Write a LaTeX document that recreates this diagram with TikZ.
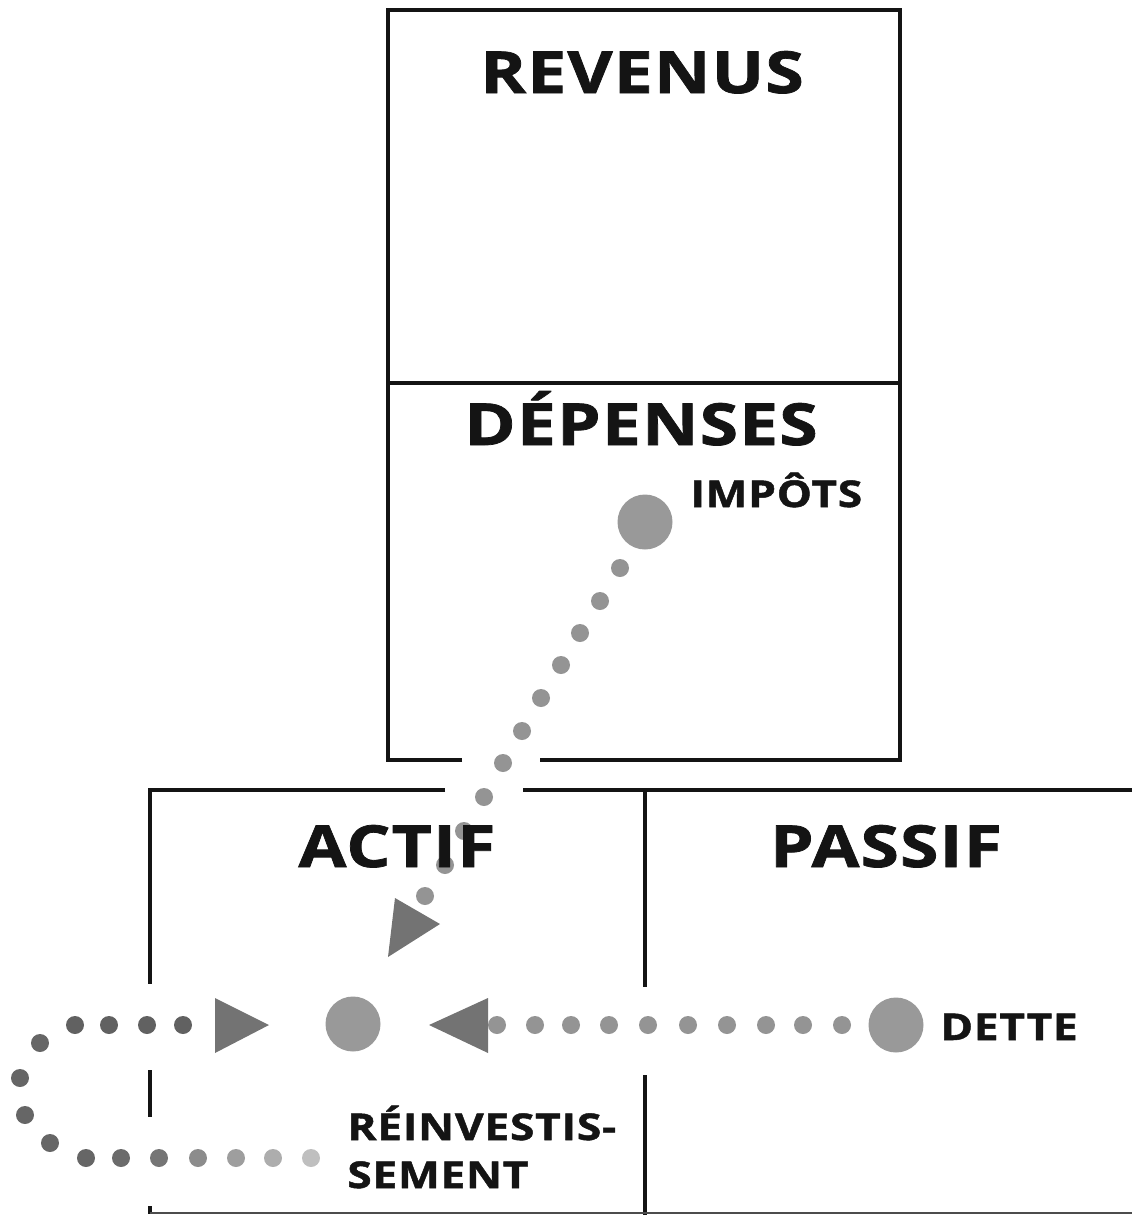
\documentclass[tikz,border=0pt]{standalone}
\usepackage{fontspec}
\setmainfont{Open Sans}[FakeStretch=1.2,LetterSpace=2,FakeBold=1.3]
\begin{document}
\begin{tikzpicture}[x=0.02cm,y=-0.02cm,
  boxline/.style={line width=2.8pt,black!92},
  bigtitle/.style={font=\bfseries\fontsize{33}{38}\selectfont,text=black!92,inner sep=0pt},
  smalltitle/.style={font=\bfseries\fontsize{21}{25}\selectfont,text=black!92,inner sep=0pt,align=left},
  bigdot/.style={circle,fill=black!40,minimum size=55*0.02cm,inner sep=0pt},
  tri/.style={fill=black!55}
]
\useasboundingbox (0,0) rectangle (1132,1215);
% top box
\draw[boxline] (462,760) -- (388,760) -- (388,10) -- (900,10) -- (900,760) -- (540,760);
\draw[boxline] (388,383) -- (900,383);
% bottom boxes
\draw[boxline] (445,790) -- (150,790) -- (150,984);
\draw[boxline] (523,790) -- (1140,790);
\draw[boxline] (150,1070) -- (150,1117);
\draw[boxline] (150,1206) -- (150,1214);
\draw[boxline] (645,790) -- (645,987);
\draw[boxline] (645,1075) -- (645,1215);
\draw[line width=1.2pt,black!70] (150,1213) -- (1132,1213);

% dots impots -> actif
\foreach \x/\y in {620/568,600/601,580/633,561/665,541/698,522/731,503/763,484/797,464/831,445/865,425/896}
  \fill[black!42] (\x,\y) circle (9);
% dots dette -> centre
\foreach \x in {497,535,571,609,648,688,727,766,803,842}
  \fill[black!42] (\x,1025) circle (9);
% loop dots
\foreach \x/\y/\c in {183/1025/62,147/1025/62,109/1025/62,75/1025/62,40/1043/60,20/1078/60,25/1115/60,50/1143/60,86/1158/60,121/1158/58,159/1158/54,198/1158/45,236/1158/38,273/1158/32,311/1158/25}
  \fill[black!\c] (\x,\y) circle (9);

% nodes
\node[bigdot] (impots) at (645,522) {};
\node[bigdot] (centre) at (353,1024) {};
\node[bigdot] (dette) at (896,1025) {};

\fill[tri] (395,898) -- (440,924) -- (388,957) -- cycle;
\fill[tri] (215,998) -- (269,1025) -- (215,1053) -- cycle;
\fill[tri] (429,1025) -- (488,998) -- (488,1053) -- cycle;

% labels
\node[bigtitle,anchor=base] (rev) at (642,93) {REVENUS};
\node[bigtitle,anchor=base] (dep) at (641,445) {DÉPENSES};
\node[bigtitle,anchor=base] (act) at (397,867) {ACTIF};
\node[bigtitle,anchor=base] (pas) at (886,867) {PASSIF};
\node[smalltitle,anchor=base west] (imp) at (690,507) {IMPÔTS};
\node[smalltitle,anchor=base west] (det) at (940,1040) {DETTE};
\node[smalltitle,anchor=base west] (rei1) at (347,1140) {RÉINVESTIS-};
\node[smalltitle,anchor=base west] (rei2) at (347,1188) {SEMENT};
\end{tikzpicture}
\end{document}
